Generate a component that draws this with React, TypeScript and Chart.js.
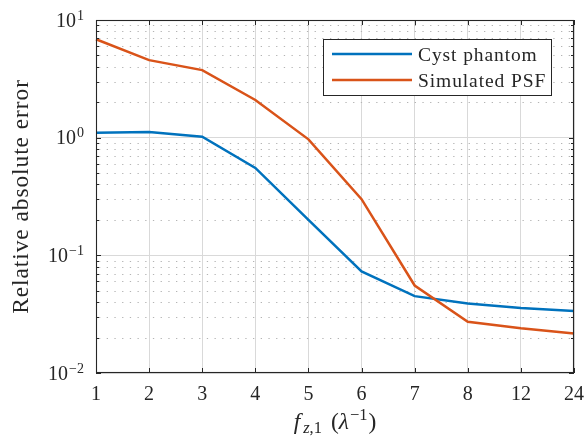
import React, { useEffect, useRef } from "react";
import { Chart, registerables } from "chart.js";

Chart.register(...registerables);

// ---- data ----
const categories = ["1", "2", "3", "4", "5", "6", "7", "8", "12", "24"];
const cystPhantom = [1.1, 1.115, 1.02, 0.553, 0.2, 0.073, 0.045, 0.039, 0.0356, 0.0337];
const simulatedPSF = [6.86, 4.56, 3.75, 2.09, 0.968, 0.3, 0.0554, 0.0272, 0.024, 0.0217];
const seriesNames = ["Cyst phantom", "Simulated PSF"];
const yDecades = [0.01, 0.1, 1, 10];
const yExponents = ["\u22122", "\u22121", "0", "1"];
const yAxisTitle = "Relative absolute error";

const BLUE = "#0072BD";
const ORANGE = "#D95319";
const AXIS = "#262626";
const SERIF = '"Liberation Serif", "Times New Roman", serif';

function font(size: number, italic = false) {
  return `${italic ? "italic " : ""}${size}px ${SERIF}`;
}

const matlabPlugin = {
  id: "matlabAxes",
  beforeDatasetsDraw(chart: any) {
    const { ctx, chartArea: ca, scales } = chart;
    const y = scales.y;
    ctx.save();
    ctx.strokeStyle = "#b4b4b4";
    ctx.lineWidth = 1;
    ctx.setLineDash([1.3, 6.4]);
    for (let k = 0; k < yDecades.length - 1; k++) {
      for (let m = 2; m <= 9; m++) {
        const py = Math.round(y.getPixelForValue(yDecades[k] * m)) + 0.5;
        ctx.beginPath();
        ctx.moveTo(ca.left + 3, py);
        ctx.lineTo(ca.right, py);
        ctx.stroke();
      }
    }
    ctx.restore();
  },
  afterDatasetsDraw(chart: any) {
    const { ctx, chartArea: ca, scales } = chart;
    const x = scales.x;
    const y = scales.y;
    ctx.save();
    ctx.setLineDash([]);
    // box
    ctx.strokeStyle = AXIS;
    ctx.lineWidth = 1.1;
    ctx.strokeRect(ca.left + 0.5, ca.top + 0.5, ca.right - ca.left - 1, ca.bottom - ca.top - 1);
    // ticks
    ctx.lineWidth = 1;
    ctx.beginPath();
    categories.forEach((_, i) => {
      const px = Math.round(x.getPixelForValue(i)) + 0.5;
      ctx.moveTo(px, ca.bottom);
      ctx.lineTo(px, ca.bottom - 5);
      ctx.moveTo(px, ca.top);
      ctx.lineTo(px, ca.top + 5);
    });
    for (let k = 0; k < yDecades.length; k++) {
      const py = Math.round(y.getPixelForValue(yDecades[k])) + 0.5;
      ctx.moveTo(ca.left, py);
      ctx.lineTo(ca.left + 5, py);
      ctx.moveTo(ca.right, py);
      ctx.lineTo(ca.right - 5, py);
      if (k < yDecades.length - 1) {
        for (let m = 2; m <= 9; m++) {
          const pm = Math.round(y.getPixelForValue(yDecades[k] * m)) + 0.5;
          ctx.moveTo(ca.left, pm);
          ctx.lineTo(ca.left + 3, pm);
          ctx.moveTo(ca.right, pm);
          ctx.lineTo(ca.right - 3, pm);
        }
      }
    }
    ctx.stroke();

    // tick labels
    ctx.fillStyle = AXIS;
    ctx.textBaseline = "alphabetic";
    ctx.font = font(20);
    ctx.textAlign = "center";
    categories.forEach((c, i) => {
      ctx.fillText(c, x.getPixelForValue(i), ca.bottom + 27);
    });
    ctx.textAlign = "left";
    const rightEdge = ca.left - 12;
    yDecades.forEach((v, k) => {
      const py = y.getPixelForValue(v);
      ctx.font = font(14);
      const we = ctx.measureText(yExponents[k]).width;
      ctx.font = font(20);
      const wb = ctx.measureText("10").width;
      const xb = rightEdge - we - 1 - wb;
      ctx.fillText("10", xb, py + 6.5);
      ctx.font = font(14);
      ctx.fillText(yExponents[k], xb + wb + 1, py - 0.5);
    });

    // y title
    ctx.save();
    ctx.translate(28, (ca.top + ca.bottom) / 2);
    ctx.rotate(-Math.PI / 2);
    ctx.font = font(23.5);
    (ctx as any).letterSpacing = "0.9px";
    ctx.textAlign = "center";
    ctx.fillText(yAxisTitle, 0, 0);
    (ctx as any).letterSpacing = "0px";
    ctx.restore();

    // x title: f_{z,1} (λ^{-1})
    const parts: { t: string; f: string; dy: number; gap: number }[] = [
      { t: "f", f: font(23.5, true), dy: 0, gap: 3 },
      { t: "z", f: font(16.5, true), dy: 4, gap: 0 },
      { t: ",1", f: font(16.5), dy: 4, gap: 9 },
      { t: "(", f: font(23.5), dy: 0, gap: 0 },
      { t: "\u03bb", f: font(23.5, true), dy: 0, gap: 1 },
      { t: "\u22121", f: font(16.5), dy: -9, gap: 1 },
      { t: ")", f: font(23.5), dy: 0, gap: 0 },
    ];
    let total = 0;
    const widths = parts.map((p) => {
      ctx.font = p.f;
      const w = ctx.measureText(p.t).width;
      total += w + p.gap;
      return w;
    });
    let cx = (ca.left + ca.right) / 2 - total / 2;
    const base = ca.bottom + 56;
    ctx.textAlign = "left";
    parts.forEach((p, i) => {
      ctx.font = p.f;
      ctx.fillText(p.t, cx, base + p.dy);
      cx += widths[i] + p.gap;
    });

    // legend
    const lx1 = ca.right - 251;
    const lx2 = ca.right - 22;
    const ly1 = ca.top + 19;
    const ly2 = ca.top + 76;
    ctx.fillStyle = "#ffffff";
    ctx.fillRect(lx1, ly1, lx2 - lx1, ly2 - ly1);
    ctx.strokeStyle = AXIS;
    ctx.lineWidth = 1;
    ctx.strokeRect(lx1 + 0.5, ly1 + 0.5, lx2 - lx1 - 1, ly2 - ly1 - 1);
    const colors = [BLUE, ORANGE];
    const rows = [ly1 + 15, ly1 + 41];
    seriesNames.forEach((name, i) => {
      ctx.strokeStyle = colors[i];
      ctx.lineWidth = 2.5;
      ctx.beginPath();
      ctx.moveTo(lx1 + 9, rows[i]);
      ctx.lineTo(lx1 + 89, rows[i]);
      ctx.stroke();
      ctx.fillStyle = AXIS;
      ctx.font = font(19.5);
      (ctx as any).letterSpacing = "0.9px";
      ctx.fillText(name, lx1 + 95, rows[i] + 6.5);
      (ctx as any).letterSpacing = "0px";
    });
    ctx.restore();
  },
};

export default function App() {
  const ref = useRef<HTMLCanvasElement | null>(null);
  useEffect(() => {
    document.body.style.margin = "0";
    const canvas = ref.current!;
    const chart = new Chart(canvas, {
      type: "line",
      data: {
        labels: categories,
        datasets: [
          {
            label: seriesNames[0],
            data: cystPhantom,
            borderColor: BLUE,
            backgroundColor: BLUE,
            borderWidth: 2.5,
            pointRadius: 0,
            tension: 0,
            fill: false,
            order: 1,
          },
          {
            label: seriesNames[1],
            data: simulatedPSF,
            borderColor: ORANGE,
            backgroundColor: ORANGE,
            borderWidth: 2.5,
            pointRadius: 0,
            tension: 0,
            fill: false,
            order: 0,
          },
        ],
      },
      options: {
        responsive: false,
        animation: false,
        devicePixelRatio: 1,
        layout: { padding: { top: 20, right: 12, left: 0, bottom: 0 } },
        plugins: { legend: { display: false }, tooltip: { enabled: false } },
        scales: {
          x: {
            type: "category",
            offset: false,
            grid: { color: "#d9d9d9", lineWidth: 1, drawTicks: false, offset: false },
            border: { display: false },
            ticks: { display: false },
            afterFit(s: any) {
              s.height = 66;
            },
          },
          y: {
            type: "logarithmic",
            min: 0.01,
            max: 10,
            afterBuildTicks(s: any) {
              s.ticks = yDecades.map((v) => ({ value: v }));
            },
            grid: { color: "#d9d9d9", lineWidth: 1, drawTicks: false },
            border: { display: false },
            ticks: { display: false },
            afterFit(s: any) {
              s.width = 96;
            },
          },
        },
      },
      plugins: [matlabPlugin],
    } as any);
    return () => chart.destroy();
  }, []);
  return (
    <div style={{ position: "absolute", left: 0, top: 0, width: 586, height: 439 }}>
      <canvas ref={ref} width={586} height={439} />
    </div>
  );
}
